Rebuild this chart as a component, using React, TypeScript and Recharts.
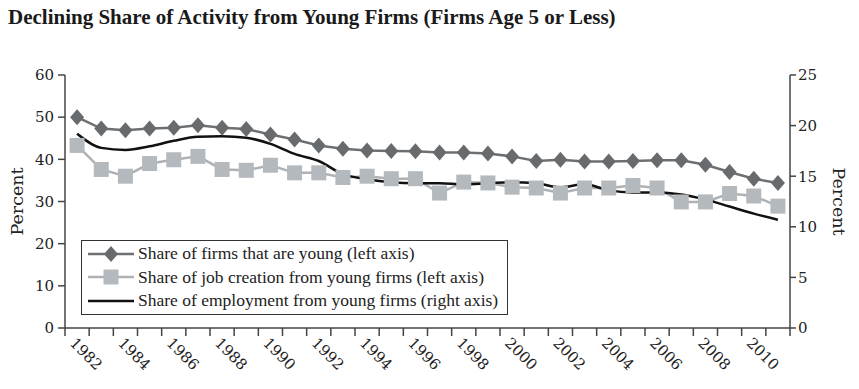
import { ComposedChart, Line, XAxis, YAxis } from "recharts"

// years on the x axis
const years = [
    1982, 1983, 1984, 1985, 1986, 1987, 1988, 1989, 1990, 1991,
    1992, 1993, 1994, 1995, 1996, 1997, 1998, 1999, 2000, 2001,
    2002, 2003, 2004, 2005, 2006, 2007, 2008, 2009, 2010, 2011,
]

// share of firms that are young (left axis)
const youngFirms = [
    50.0, 47.3, 46.9, 47.3, 47.5, 48.1, 47.5, 47.2, 45.9, 44.7,
    43.3, 42.5, 42.1, 42.0, 41.9, 41.6, 41.6, 41.4, 40.7, 39.6,
    39.9, 39.5, 39.5, 39.6, 39.8, 39.8, 38.7, 37.0, 35.4, 34.4,
]

// share of job creation from young firms (left axis)
const jobCreation = [
    43.3, 37.6, 36.0, 39.0, 39.9, 40.7, 37.6, 37.4, 38.6, 36.8,
    36.8, 35.7, 36.0, 35.4, 35.4, 32.0, 34.6, 34.4, 33.4, 33.2,
    32.0, 33.2, 33.2, 33.8, 33.2, 29.9, 29.9, 31.9, 31.3, 28.9,
]

// share of employment from young firms (right axis)
const employment = [
    19.2, 17.8, 17.6, 17.95, 18.5, 18.9, 18.95, 18.8, 18.2, 17.2,
    16.5, 15.2, 14.7, 14.4, 14.3, 14.3, 14.2, 14.3, 14.4, 14.3,
    13.9, 14.2, 13.6, 13.4, 13.4, 13.2, 12.7, 12.0, 11.3, 10.7,
]

const leftTicks = [0, 10, 20, 30, 40, 50, 60]
const rightTicks = [0, 5, 10, 15, 20, 25]
const yearLabels = [1982, 1984, 1986, 1988, 1990, 1992, 1994, 1996, 1998, 2000, 2002, 2004, 2006, 2008, 2010]

const legendItems = [
    { label: "Share of firms that are young (left axis)", kind: "diamond" },
    { label: "Share of job creation from young firms (left axis)", kind: "square" },
    { label: "Share of employment from young firms (right axis)", kind: "line" },
]

const data = years.map((year, i) => ({
    year,
    youngFirms: youngFirms[i],
    jobCreation: jobCreation[i],
    employment: employment[i],
}))

// tick marks sit on the band edges between years
const bandTicks = [...years.map((y) => y - 0.5), years[years.length - 1] + 0.5]

const SERIF = "'DejaVu Serif', 'Liberation Serif', serif"
const TIMES = "'Liberation Serif', serif"
const DARK = "#676b6e"
const LIGHT = "#b4b9be"

const Diamond = (props: any) => {
    const { cx, cy } = props
    if (cx == null || cy == null) return null
    return (
        <path
            d={`M${cx},${cy - 8} L${cx + 7},${cy} L${cx},${cy + 8} L${cx - 7},${cy} Z`}
            fill={DARK}
        />
    )
}

const Square = (props: any) => {
    const { cx, cy } = props
    if (cx == null || cy == null) return null
    return <rect x={cx - 7.5} y={cy - 7.5} width={15} height={15} fill={LIGHT} />
}

const YearTick = (props: any) => {
    const { x, y, payload } = props
    const year = payload.value + 0.5
    if (!yearLabels.includes(year)) return <g />
    const tx = x + 4
    const ty = y + 6
    return (
        <text
            x={tx}
            y={ty}
            transform={`rotate(45 ${tx} ${ty})`}
            textAnchor="start"
            fill="#222"
            fontSize={15}
            fontFamily={SERIF}
        >
            {year}
        </text>
    )
}

const LegendBox = () => (
    <div
        style={{
            position: "absolute",
            left: 81,
            top: 240,
            width: 427,
            height: 75,
            boxSizing: "border-box",
            border: "1.5px solid #333",
            background: "#fff",
            fontFamily: TIMES,
            fontSize: 17.5,
            color: "#222",
            paddingTop: 1,
        }}
    >
        {legendItems.map((item) => (
            <div key={item.label} style={{ display: "flex", alignItems: "center", height: 23.5 }}>
                <svg width={56} height={20} style={{ flex: "none" }}>
                    {item.kind === "diamond" && (
                        <>
                            <line x1={6} y1={10} x2={52} y2={10} stroke="#6d7073" strokeWidth={2.5} />
                            <path d="M29,2 L36,10 L29,18 L22,10 Z" fill={DARK} />
                        </>
                    )}
                    {item.kind === "square" && (
                        <>
                            <line x1={6} y1={10} x2={52} y2={10} stroke="#aeb2b6" strokeWidth={2.5} />
                            <rect x={21.5} y={2.5} width={15} height={15} fill={LIGHT} />
                        </>
                    )}
                    {item.kind === "line" && (
                        <line x1={6} y1={10} x2={52} y2={10} stroke="#111" strokeWidth={2.5} />
                    )}
                </svg>
                <span style={{ whiteSpace: "nowrap" }}>{item.label}</span>
            </div>
        ))}
    </div>
)

export default function App() {
    const tickStyle = { fill: "#222", fontSize: 15, fontFamily: SERIF }
    const axisTitle = { textAnchor: "middle", fill: "#222", fontSize: 17.5, fontFamily: SERIF }

    return (
        <div style={{ position: "absolute", left: 0, top: 0, width: 859, height: 389, background: "#fff" }}>
            <div
                style={{
                    position: "absolute",
                    left: 8,
                    top: 5,
                    fontFamily: TIMES,
                    fontWeight: "bold",
                    fontSize: 21,
                    color: "#1a1a1a",
                    whiteSpace: "nowrap",
                }}
            >
                Declining Share of Activity from Young Firms (Firms Age 5 or Less)
            </div>
            <ComposedChart
                width={859}
                height={389}
                data={data}
                margin={{ top: 75, right: 24, left: 0, bottom: 0 }}
                style={{ position: "absolute", left: 0, top: 0 }}
            >
                <XAxis
                    dataKey="year"
                    type="number"
                    domain={[1981.5, 2011.5]}
                    ticks={bandTicks}
                    interval={0}
                    tick={<YearTick />}
                    tickSize={8}
                    height={61}
                    stroke="#444"
                    strokeWidth={1.5}
                />
                <YAxis
                    yAxisId="left"
                    domain={[0, 60]}
                    ticks={leftTicks}
                    width={65}
                    tickSize={7}
                    tickMargin={4}
                    tick={tickStyle}
                    stroke="#444"
                    strokeWidth={1.5}
                    label={{ value: "Percent", angle: -90, position: "insideLeft", offset: 17, style: axisTitle }}
                />
                <YAxis
                    yAxisId="right"
                    orientation="right"
                    domain={[0, 25]}
                    ticks={rightTicks}
                    width={45}
                    tickSize={6}
                    tickMargin={2}
                    tick={tickStyle}
                    stroke="#444"
                    strokeWidth={1.5}
                    label={{ value: "Percent", angle: 90, position: "insideRight", offset: -4, style: axisTitle }}
                />
                <Line
                    yAxisId="left"
                    dataKey="jobCreation"
                    type="linear"
                    stroke="#aeb2b6"
                    strokeWidth={2.5}
                    dot={<Square />}
                    activeDot={false}
                    isAnimationActive={false}
                />
                <Line
                    yAxisId="left"
                    dataKey="youngFirms"
                    type="linear"
                    stroke="#6d7073"
                    strokeWidth={2.5}
                    dot={<Diamond />}
                    activeDot={false}
                    isAnimationActive={false}
                />
                <Line
                    yAxisId="right"
                    dataKey="employment"
                    type="monotone"
                    stroke="#111"
                    strokeWidth={2.5}
                    dot={false}
                    activeDot={false}
                    isAnimationActive={false}
                />
            </ComposedChart>
            <LegendBox />
        </div>
    )
}
